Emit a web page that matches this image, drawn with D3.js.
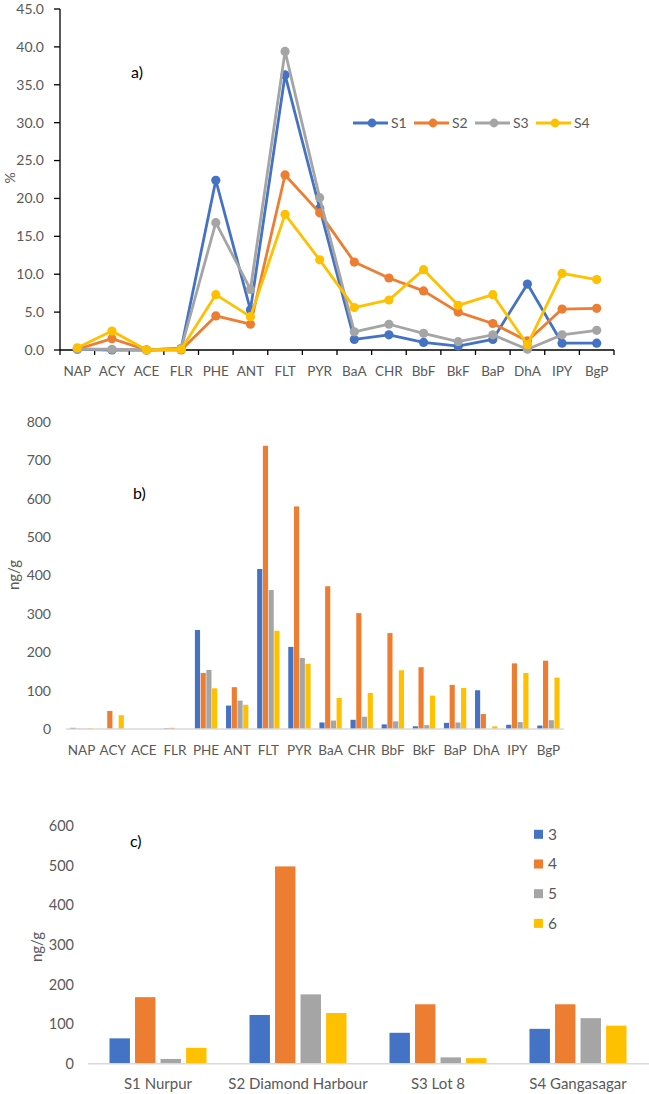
<!DOCTYPE html>
<meta charset="utf-8" />
<html>
<head>
<script src="https://d3js.org/d3.v7.min.js"></script>
<style>
  body { margin: 0; background: #fff; }
  text { font-family: Lato, 'Open Sans', sans-serif; }
</style>
</head>
<body>
<script type="text/javascript">
// PAH names
var pahs = ['NAP','ACY','ACE','FLR','PHE','ANT','FLT','PYR','BaA','CHR','BbF','BkF','BaP','DhA','IPY','BgP'];
var sites = ['S1','S2','S3','S4'];

// a) percent composition
var pctS1 = [0.1, 0.0, 0.0, 0.2, 22.4, 5.3, 36.3, 18.7, 1.4, 2.0, 1.0, 0.5, 1.4, 8.7, 0.9, 0.9];
var pctS2 = [0.1, 1.5, 0.0, 0.0, 4.5, 3.4, 23.1, 18.1, 11.6, 9.5, 7.8, 5.0, 3.5, 1.2, 5.4, 5.5];
var pctS3 = [0.1, 0.1, 0.0, 0.2, 16.8, 8.0, 39.4, 20.1, 2.4, 3.4, 2.2, 1.1, 2.0, 0.1, 2.0, 2.6];
var pctS4 = [0.3, 2.5, 0.0, 0.1, 7.3, 4.4, 17.9, 11.9, 5.6, 6.6, 10.6, 5.9, 7.3, 0.7, 10.1, 9.3];
var pctTicks = [0, 5, 10, 15, 20, 25, 30, 35, 40, 45];

// b) concentrations ng/g
var concS1 = [3, 0, 0, 2, 258, 61, 417, 214, 17, 24, 12, 7, 16, 101, 11, 9];
var concS2 = [1, 47, 0, 3, 146, 109, 738, 580, 372, 302, 250, 161, 115, 39, 171, 178];
var concS3 = [1, 0, 0, 0, 154, 74, 362, 185, 22, 32, 20, 10, 17, 0, 18, 23];
var concS4 = [2, 36, 0, 0, 106, 63, 256, 170, 81, 94, 153, 87, 107, 7, 146, 134];
var concTicks = [0, 100, 200, 300, 400, 500, 600, 700, 800];

// c) by ring number
var stations = ['S1 Nurpur', 'S2 Diamond Harbour', 'S3 Lot 8', 'S4 Gangasagar'];
var rings = ['3', '4', '5', '6'];
var ring3 = [64, 123, 78, 88];
var ring4 = [168, 498, 150, 150];
var ring5 = [12, 175, 16, 115];
var ring6 = [40, 128, 14, 96];
var ringTicks = [0, 100, 200, 300, 400, 500, 600];

var colors = ['#4472C4', '#ED7D31', '#A5A5A5', '#FFC000'];
var textCol = '#595959';

var svg = d3.select('body').append('svg')
    .attr('width', 649)
    .attr('height', 1094);

// ---------- a) line chart ----------
var pctSeries = [pctS1, pctS2, pctS3, pctS4];
var xa = d3.scaleBand().domain(pahs).range([60, 614]);
var ya = d3.scaleLinear().domain([0, 45]).range([350, 9]);
var ga = svg.append('g');

// y axis
ga.append('line').attr('x1', 60).attr('x2', 60).attr('y1', ya(45)).attr('y2', ya(0))
    .attr('stroke', '#000').attr('stroke-width', 1.3);
ga.selectAll('.ytick').data(pctTicks).enter().append('line')
    .attr('x1', 54).attr('x2', 60)
    .attr('y1', function(d) { return ya(d); }).attr('y2', function(d) { return ya(d); })
    .attr('stroke', '#000').attr('stroke-width', 1.3);
ga.selectAll('.ylab').data(pctTicks).enter().append('text')
    .attr('x', 44).attr('y', function(d) { return ya(d); })
    .attr('dy', '0.35em').attr('text-anchor', 'end')
    .attr('font-size', 14).attr('fill', textCol)
    .text(function(d) { return d3.format('.1f')(d); });
// x axis
ga.append('line').attr('x1', 60).attr('x2', 614).attr('y1', ya(0)).attr('y2', ya(0))
    .attr('stroke', '#000').attr('stroke-width', 1.3);
ga.selectAll('.xtick').data(pahs.concat(['end'])).enter().append('line')
    .attr('x1', function(d, i) { return 60 + i * xa.step(); })
    .attr('x2', function(d, i) { return 60 + i * xa.step(); })
    .attr('y1', ya(0)).attr('y2', ya(0) + 5)
    .attr('stroke', '#000').attr('stroke-width', 1.3);
ga.selectAll('.xlab').data(pahs).enter().append('text')
    .attr('x', function(d) { return xa(d) + xa.bandwidth() / 2; })
    .attr('y', 371).attr('dy', '0.35em').attr('text-anchor', 'middle')
    .attr('font-size', 13.5).attr('fill', textCol)
    .text(function(d) { return d; });

var line = d3.line()
    .x(function(d, i) { return xa(pahs[i]) + xa.bandwidth() / 2; })
    .y(function(d) { return ya(d); });
pctSeries.forEach(function(s, k) {
  ga.append('path').attr('d', line(s))
      .attr('fill', 'none').attr('stroke', colors[k]).attr('stroke-width', 2.8)
      .attr('stroke-linejoin', 'round');
  ga.selectAll('.pt' + k).data(s).enter().append('circle')
      .attr('cx', function(d, i) { return xa(pahs[i]) + xa.bandwidth() / 2; })
      .attr('cy', function(d) { return ya(d); })
      .attr('r', 4.6).attr('fill', colors[k]);
});

// legend a
var la = ga.selectAll('.leg').data(sites).enter().append('g')
    .attr('transform', function(d, i) { return 'translate(' + (353 + i * 61) + ',123)'; });
la.append('line').attr('x1', 0).attr('x2', 35).attr('y1', 0).attr('y2', 0)
    .attr('stroke', function(d, i) { return colors[i]; }).attr('stroke-width', 2.8);
la.append('circle').attr('cx', 19).attr('cy', 0).attr('r', 4.4)
    .attr('fill', function(d, i) { return colors[i]; });
la.append('text').attr('x', 38).attr('y', 0).attr('dy', '0.35em')
    .attr('font-size', 14).attr('fill', textCol)
    .text(function(d) { return d; });

ga.append('text').attr('x', 131).attr('y', 72).attr('dy', '0.35em')
    .attr('font-size', 16).attr('fill', '#000').text('a)');
ga.append('text').attr('transform', 'translate(10,178) rotate(-90)')
    .attr('text-anchor', 'middle').attr('dy', '0.35em')
    .attr('font-size', 14).attr('fill', textCol).text('%');

// ---------- b) grouped bars ----------
var concSeries = [concS1, concS2, concS3, concS4];
var xb = d3.scaleBand().domain(pahs).range([66, 564]);
var xb1 = d3.scaleBand().domain(sites).range([4.4, xb.bandwidth() - 4.4]).paddingInner(0.1);
var yb = d3.scaleLinear().domain([0, 800]).range([729, 422]);
var gb = svg.append('g');

gb.selectAll('.ylab').data(concTicks).enter().append('text')
    .attr('x', 51).attr('y', function(d) { return yb(d); })
    .attr('dy', '0.35em').attr('text-anchor', 'end')
    .attr('font-size', 14).attr('fill', textCol)
    .text(function(d) { return d; });

pahs.forEach(function(p, i) {
  gb.selectAll('.bar' + i).data(concSeries).enter().append('rect')
      .attr('x', function(s, k) { return xb(p) + xb1(sites[k]); })
      .attr('y', function(s) { return yb(s[i]); })
      .attr('width', xb1.bandwidth())
      .attr('height', function(s) { return yb(0) - yb(s[i]); })
      .attr('fill', function(s, k) { return colors[k]; });
});
gb.append('line').attr('x1', 66).attr('x2', 564).attr('y1', yb(0)).attr('y2', yb(0))
    .attr('stroke', '#D9D9D9').attr('stroke-width', 1.6);
gb.selectAll('.xlab').data(pahs).enter().append('text')
    .attr('x', function(d) { return xb(d) + xb.bandwidth() / 2; })
    .attr('y', 750).attr('dy', '0.35em').attr('text-anchor', 'middle')
    .attr('font-size', 13.5).attr('fill', textCol)
    .text(function(d) { return d; });
gb.append('text').attr('x', 133).attr('y', 493).attr('dy', '0.35em')
    .attr('font-size', 16).attr('fill', '#000').text('b)');
gb.append('text').attr('transform', 'translate(14,575) rotate(-90)')
    .attr('text-anchor', 'middle').attr('dy', '0.35em')
    .attr('font-size', 15).attr('fill', textCol).text('ng/g');

// ---------- c) grouped bars by rings ----------
var ringSeries = [ring3, ring4, ring5, ring6];
var xc = d3.scaleBand().domain(stations).range([88, 648]);
var xc1 = d3.scaleBand().domain(rings).range([21.5, xc.bandwidth() - 21.5]).paddingInner(0.2);
var yc = d3.scaleLinear().domain([0, 600]).range([1063.7, 826]);
var gc = svg.append('g');

gc.selectAll('.ylab').data(ringTicks).enter().append('text')
    .attr('x', 74).attr('y', function(d) { return yc(d); })
    .attr('dy', '0.35em').attr('text-anchor', 'end')
    .attr('font-size', 14.5).attr('fill', textCol)
    .text(function(d) { return d; });

stations.forEach(function(st, i) {
  gc.selectAll('.cbar' + i).data(ringSeries).enter().append('rect')
      .attr('x', function(s, k) { return xc(st) + xc1(rings[k]); })
      .attr('y', function(s) { return yc(s[i]); })
      .attr('width', xc1.bandwidth())
      .attr('height', function(s) { return yc(0) - yc(s[i]); })
      .attr('fill', function(s, k) { return colors[k]; });
});
gc.append('line').attr('x1', 88).attr('x2', 649).attr('y1', yc(0)).attr('y2', yc(0))
    .attr('stroke', '#D9D9D9').attr('stroke-width', 1.6);
gc.selectAll('.xlab').data(stations).enter().append('text')
    .attr('x', function(d) { return xc(d) + xc.bandwidth() / 2; })
    .attr('y', 1084).attr('dy', '0.35em').attr('text-anchor', 'middle')
    .attr('font-size', 15).attr('fill', textCol)
    .text(function(d) { return d; });

var lc = gc.selectAll('.leg').data(rings).enter().append('g')
    .attr('transform', function(d, i) { return 'translate(534,' + (834.3 + i * 29.7) + ')'; });
lc.append('rect').attr('x', 0).attr('y', -4.5).attr('width', 9).attr('height', 9)
    .attr('fill', function(d, i) { return colors[i]; });
lc.append('text').attr('x', 14).attr('y', 0).attr('dy', '0.35em')
    .attr('font-size', 15.5).attr('fill', textCol)
    .text(function(d) { return d; });

gc.append('text').attr('x', 130).attr('y', 841).attr('dy', '0.35em')
    .attr('font-size', 16).attr('fill', '#000').text('c)');
gc.append('text').attr('transform', 'translate(37,947) rotate(-90)')
    .attr('text-anchor', 'middle').attr('dy', '0.35em')
    .attr('font-size', 15).attr('fill', textCol).text('ng/g');
</script>
</body>
</html>
